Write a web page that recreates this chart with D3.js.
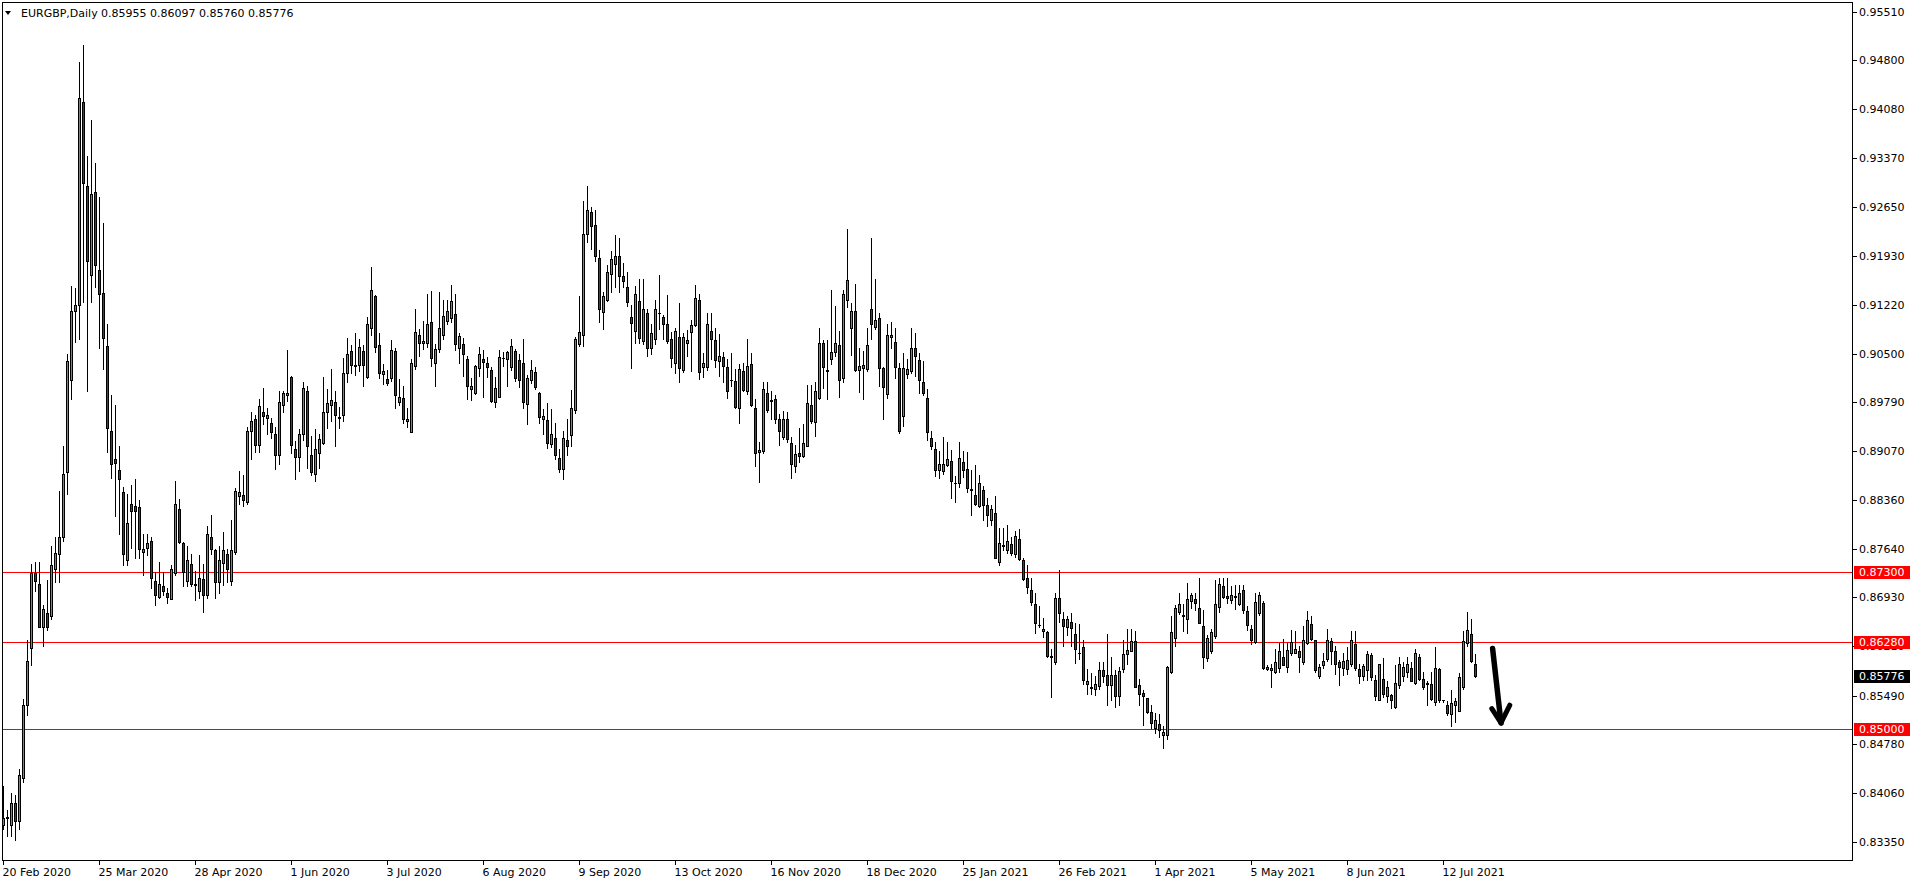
<!DOCTYPE html>
<html><head><meta charset="utf-8">
<script src="https://cdn.jsdelivr.net/npm/d3@7/dist/d3.min.js"></script>
<style>
html,body{margin:0;padding:0;background:#fff;overflow:hidden}
svg{display:block}
text{font-family:"DejaVu Sans",sans-serif;font-size:11px;fill:#000}
</style></head><body>
<svg id="c" width="1916" height="884"></svg>
<script>
// ---- data (EURGBP daily) ----
const title = "EURGBP,Daily";
const ohlcText = "0.85955 0.86097 0.85760 0.85776";
const open = [.8360,.8370,.8360,.8391,.8366,.8429,.8536,.8619,.8728,.8713,.8649,.8670,.8665,.8734,.8757,.8781,.8876,.9012,.9112,.9121,.9418,.9295,.9165,.9287,.9173,.9139,.9061,.8936,.8896,.8880,
.8847,.8747,.8830,.8827,.8826,.8760,.8766,.8776,.8717,.8693,.8709,.8699,.8690,.8728,.8822,.8772,.8717,.8742,.8713,.8703,.8720,.8697,.8782,.8763,.8715,.8743,.8757,.8717,.8760,.8842,
.8843,.8832,.8937,.8954,.8916,.8964,.8956,.8949,.8933,.8902,.8975,.8989,.9016,.8910,.8899,.8932,.8995,.8901,.8873,.8904,.8919,.8964,.8975,.8979,.8956,.8960,.9021,.9054,.9032,.9033,
.9054,.9016,.9088,.9134,.9063,.9020,.9013,.9015,.9054,.8979,.8985,.8951,.8935,.9032,.9077,.9065,.9065,.9096,.9037,.9057,.9078,.9098,.9102,.9108,.9058,.9064,.9042,.8998,.8992,.9029,
.9042,.9037,.9026,.8979,.8987,.9043,.9042,.9031,.9054,.9041,.9037,.8976,.9012,.9023,.8993,.8955,.8953,.8917,.8926,.8897,.8881,.8923,.8931,.8968,.9064,.9078,.9225,.9257,.9238,.9190,
.9111,.9129,.9167,.9182,.9193,.9164,.9148,.9103,.9083,.9127,.9068,.9109,.9059,.9071,.9109,.9103,.9094,.9071,.9037,.9074,.9026,.9065,.9082,.9092,.9128,.9031,.9030,.9083,.9070,.9039,
.9045,.9031,.9011,.9010,.8970,.9025,.8996,.9035,.8971,.8906,.8908,.8993,.8982,.8983,.8955,.8928,.8954,.8919,.8886,.8905,.8900,.8915,.8975,.8950,.8985,.9065,.9025,.9042,.9052,.9062,
.9014,.9129,.9087,.9113,.9026,.9029,.9027,.9115,.9089,.9102,.9029,.8991,.9074,.9067,.9029,.8959,.9020,.9025,.9059,.9040,.9009,.8985,.8927,.8911,.8880,.8878,.8887,.8893,.8860,.8861,
.8892,.8881,.8850,.8843,.8827,.8850,.8828,.8807,.8816,.8745,.8768,.8762,.8771,.8757,.8778,.8748,.8721,.8704,.8683,.8652,.8643,.8642,.8606,.8599,.8692,.8662,.8650,.8657,.8640,.8611,
.8620,.8566,.8560,.8558,.8563,.8587,.8579,.8564,.8579,.8549,.8588,.8610,.8615,.8629,.8565,.8553,.8545,.8525,.8502,.8508,.8491,.8492,.8583,.8634,.8672,.8666,.8661,.8687,.8690,.8678,
.8651,.8604,.8614,.8636,.8679,.8710,.8695,.8689,.8695,.8683,.8704,.8673,.8646,.8627,.8670,.8684,.8588,.8586,.8584,.8590,.8605,.8591,.8611,.8612,.8614,.8599,.8626,.8654,.8631,.8578,
.8594,.8602,.8629,.8614,.8598,.8589,.8588,.8596,.8625,.8588,.8578,.8586,.8608,.8572,.8542,.8574,.8549,.8550,.8532,.8565,.8578,.8584,.8590,.8567,.8605,.8574,.8567,.8566,.8540,.8588,
.8542,.8536,.8522,.8536,.8527,.8562,.8626,.8640,.85955];
const high = [.8416,.8381,.8406,.8404,.8441,.8544,.8630,.8742,.8745,.8745,.8682,.8719,.8768,.8781,.8849,.8914,.9050,.9149,.9146,.9478,.9502,.9339,.9392,.9330,.9280,.9241,.9094,.8990,.8975,.8914,
.8854,.8845,.8858,.8866,.8835,.8786,.8786,.8781,.8730,.8745,.8730,.8707,.8741,.8864,.8837,.8774,.8768,.8757,.8732,.8755,.8742,.8797,.8814,.8764,.8768,.8789,.8764,.8807,.8853,.8878,
.8872,.8942,.8964,.8960,.8983,.9000,.8971,.8956,.8942,.8996,.8996,.9056,.9018,.8922,.8939,.9008,.9002,.8929,.8939,.8932,.9016,.8998,.9027,.8996,.8972,.9043,.9073,.9063,.9080,.9071,
.9063,.9103,.9177,.9136,.9081,.9035,.9026,.9070,.9059,.9013,.9003,.8971,.9042,.9115,.9086,.9098,.9137,.9142,.9064,.9141,.9128,.9129,.9151,.9137,.9081,.9073,.9047,.9015,.9033,.9060,
.9056,.9045,.9031,.9016,.9055,.9053,.9054,.9072,.9057,.9050,.9072,.9019,.9040,.9030,.8994,.8969,.8977,.8969,.8948,.8911,.8937,.8954,.8997,.9075,.9134,.9274,.9296,.9265,.9261,.9202,
.9141,.9180,.9200,.9224,.9220,.9183,.9170,.9121,.9149,.9160,.9160,.9115,.9093,.9129,.9165,.9107,.9136,.9082,.9087,.9124,.9081,.9085,.9100,.9151,.9138,.9051,.9110,.9109,.9087,.9079,
.9052,.9042,.9051,.9027,.9035,.9037,.9071,.9051,.8983,.8920,.9008,.9008,.8996,.8989,.8961,.8966,.8964,.8928,.8916,.8941,.8947,.9004,.9004,.9009,.9087,.9070,.9070,.9144,.9120,.9083,
.9144,.9232,.9124,.9152,.9058,.9054,.9087,.9220,.9160,.9109,.9030,.9094,.9096,.9088,.9036,.9051,.9042,.9087,.9080,.9051,.9039,.8998,.8937,.8920,.8908,.8928,.8920,.8909,.8871,.8920,
.8908,.8906,.8880,.8887,.8872,.8856,.8838,.8829,.8842,.8794,.8794,.8799,.8781,.8790,.8793,.8750,.8740,.8721,.8699,.8680,.8663,.8644,.8617,.8699,.8733,.8672,.8665,.8670,.8655,.8654,
.8630,.8588,.8582,.8578,.8599,.8599,.8640,.8606,.8587,.8591,.8630,.8646,.8646,.8643,.8573,.8557,.8545,.8535,.8523,.8522,.8504,.8592,.8666,.8682,.8699,.8683,.8714,.8700,.8699,.8721,
.8675,.8638,.8647,.8718,.8721,.8721,.8721,.8709,.8711,.8711,.8711,.8680,.8653,.8700,.8701,.8687,.8594,.8596,.8617,.8626,.8632,.8626,.8645,.8644,.8621,.8651,.8673,.8666,.8631,.8596,
.8611,.8646,.8634,.8621,.8601,.8611,.8620,.8643,.8643,.8596,.8596,.8614,.8612,.8579,.8596,.8604,.8570,.8552,.8594,.8606,.8599,.8605,.8598,.8617,.8610,.8584,.8570,.8584,.8620,.8589,
.8543,.8541,.8557,.8545,.8582,.8644,.8672,.8661,.86097];
const low = [.8354,.8343,.8343,.8337,.8354,.8422,.8521,.8594,.8703,.8649,.8621,.8645,.8661,.8715,.8715,.8776,.8845,.8983,.9067,.9071,.9125,.8996,.9125,.9148,.9058,.9027,.8906,.8868,.8812,.8786,
.8740,.8740,.8766,.8751,.8751,.8725,.8755,.8707,.8682,.8692,.8696,.8684,.8690,.8725,.8772,.8709,.8709,.8709,.8689,.8692,.8672,.8692,.8757,.8692,.8699,.8711,.8715,.8711,.8757,.8830,
.8827,.8830,.8895,.8906,.8906,.8947,.8932,.8927,.8881,.8889,.8965,.8981,.8904,.8866,.8878,.8924,.8883,.8872,.8864,.8883,.8918,.8941,.8952,.8914,.8941,.8952,.9008,.9021,.9019,.9025,
.9002,.9014,.9077,.9052,.9015,.9006,.9004,.9010,.8970,.8975,.8948,.8942,.8935,.9027,.9046,.9057,.9060,.9032,.9003,.9053,.9072,.9093,.9097,.9055,.9037,.9018,.8983,.8982,.8991,.9017,
.8987,.9016,.8979,.8972,.8986,.9032,.9003,.9026,.9010,.9001,.8971,.8947,.9007,.8998,.8949,.8932,.8912,.8913,.8895,.8877,.8867,.8902,.8915,.8963,.9061,.9061,.9213,.9203,.9186,.9097,
.9086,.9127,.9141,.9148,.9140,.9147,.9120,.9029,.9065,.9066,.9064,.9046,.9049,.9064,.9086,.9072,.9065,.9031,.9021,.9009,.9023,.9046,.9025,.9091,.9013,.9016,.9026,.9042,.9031,.9018,
.9009,.8985,.9003,.8971,.8948,.8995,.8991,.8973,.8885,.8862,.8904,.8964,.8955,.8949,.8916,.8925,.8920,.8868,.8876,.8891,.8899,.8915,.8948,.8930,.8984,.9000,.8984,.9035,.9046,.8986,
.9009,.9118,.9048,.9024,.8994,.8984,.9025,.9072,.9086,.9003,.8954,.8985,.9058,.9014,.8934,.8944,.9014,.9021,.9018,.8993,.8990,.8923,.8911,.8871,.8868,.8874,.8885,.8839,.8832,.8855,
.8870,.8848,.8814,.8828,.8826,.8806,.8797,.8799,.8750,.8740,.8762,.8758,.8755,.8752,.8747,.8719,.8699,.8682,.8641,.8650,.8635,.8606,.8547,.8596,.8657,.8621,.8638,.8622,.8597,.8602,
.8566,.8551,.8551,.8550,.8558,.8569,.8535,.8543,.8533,.8535,.8583,.8596,.8614,.8562,.8535,.8506,.8523,.8501,.8494,.8489,.8472,.8485,.8582,.8622,.8668,.8643,.8641,.8677,.8675,.8655,
.8590,.8600,.8612,.8634,.8672,.8692,.8685,.8684,.8676,.8682,.8670,.8645,.8624,.8626,.8667,.8588,.8586,.8561,.8582,.8584,.8594,.8583,.8609,.8611,.8584,.8596,.8624,.8631,.8584,.8575,
.8589,.8600,.8596,.8581,.8565,.8579,.8581,.8593,.8586,.8568,.8572,.8572,.8572,.8542,.8542,.8547,.8540,.8531,.8531,.8560,.8571,.8577,.8570,.8566,.8572,.8558,.8535,.8543,.8535,.8540,
.8540,.8521,.8504,.8511,.8526,.8558,.8621,.8599,.85760];
const close = [.8370,.8371,.8391,.8366,.8433,.8536,.8600,.8728,.8717,.8649,.8676,.8649,.8740,.8758,.8782,.8873,.9039,.9113,.9122,.9424,.9300,.9186,.9284,.9180,.9138,.9073,.8941,.8889,.8890,.8866,
.8757,.8802,.8820,.8820,.8764,.8764,.8772,.8722,.8697,.8713,.8702,.8694,.8735,.8830,.8774,.8730,.8748,.8712,.8711,.8721,.8697,.8786,.8764,.8715,.8748,.8762,.8735,.8763,.8849,.8847,
.8835,.8937,.8952,.8916,.8973,.8958,.8960,.8935,.8901,.8979,.8992,.8992,.8916,.8899,.8933,.8999,.8914,.8876,.8910,.8925,.8965,.8977,.8982,.8960,.8957,.9021,.9050,.9033,.9034,.9060,
.9033,.9094,.9144,.9060,.9021,.9024,.9007,.9055,.8990,.8986,.8954,.8954,.9037,.9082,.9066,.9069,.9094,.9043,.9057,.9087,.9105,.9113,.9127,.9064,.9076,.9049,.9003,.9003,.9032,.9050,
.9038,.9031,.8980,.8999,.9045,.9043,.9052,.9061,.9015,.9012,.8979,.9014,.9026,.9001,.8957,.8959,.8919,.8932,.8902,.8881,.8926,.8915,.8971,.9072,.9082,.9225,.9260,.9237,.9193,.9115,
.9134,.9169,.9188,.9193,.9164,.9157,.9126,.9095,.9137,.9073,.9116,.9058,.9080,.9115,.9110,.9094,.9069,.9043,.9083,.9029,.9074,.9070,.9092,.9132,.9023,.9036,.9093,.9072,.9041,.9047,
.9032,.8995,.9012,.8972,.9028,.8997,.9032,.8975,.8905,.8909,.8998,.8967,.8981,.8954,.8936,.8954,.8925,.8889,.8903,.8900,.8919,.8977,.8952,.8995,.9065,.9031,.9026,.9052,.9065,.9012,
.9137,.9158,.9113,.9026,.9032,.9033,.9062,.9094,.9100,.9029,.9001,.9077,.9077,.9030,.8936,.9029,.9027,.9059,.9046,.9012,.8993,.8935,.8915,.8880,.8888,.8889,.8895,.8863,.8861,.8897,
.8879,.8853,.8851,.8830,.8860,.8828,.8814,.8822,.8750,.8772,.8769,.8775,.8758,.8783,.8749,.8720,.8708,.8686,.8655,.8653,.8647,.8607,.8607,.8692,.8670,.8651,.8661,.8648,.8618,.8612,
.8572,.8570,.8561,.8566,.8586,.8578,.8564,.8579,.8549,.8585,.8610,.8616,.8629,.8562,.8551,.8549,.8525,.8509,.8514,.8499,.8496,.8591,.8642,.8677,.8683,.8667,.8690,.8696,.8684,.8656,
.8606,.8634,.8642,.8683,.8712,.8694,.8692,.8697,.8693,.8699,.8674,.8653,.8631,.8686,.8696,.8589,.8591,.8589,.8598,.8614,.8594,.8616,.8627,.8618,.8606,.8631,.8660,.8632,.8586,.8591,
.8600,.8631,.8615,.8596,.8591,.8600,.8601,.8631,.8589,.8578,.8592,.8610,.8577,.8549,.8595,.8551,.8562,.8542,.8568,.8596,.8591,.8595,.8571,.8611,.8574,.8562,.8566,.8544,.8590,.8542,
.8542,.8524,.8538,.8541,.8576,.8629,.8645,.8600,.85776];

const yTickLabels = ["0.95510","0.94800","0.94080","0.93370","0.92650","0.91930","0.91220","0.90500","0.89790","0.89070","0.88360","0.87640","0.86930","0.86210","0.85490","0.84780","0.84060","0.83350"];
const xTickLabels = ["20 Feb 2020","25 Mar 2020","28 Apr 2020","1 Jun 2020","3 Jul 2020","6 Aug 2020","9 Sep 2020","13 Oct 2020","16 Nov 2020","18 Dec 2020","25 Jan 2021","26 Feb 2021","1 Apr 2021","5 May 2021","8 Jun 2021","12 Jul 2021"];
const xTickBars = [0,24,48,72,96,120,144,168,192,216,240,264,288,312,336,360];
const levels = [0.87300, 0.86280, 0.85000];
const lastPrice = 0.85776;
// hand-drawn arrow: [bar index, price]
const arrowShaft = [[372.4,0.8618],[374.5,0.8509]];
const arrowHead = [[372.2,0.8530],[374.5,0.8509],[376.7,0.8535]];

// ---- layout ----
const L = 2, R = 1852, T = 2, B = 860;
const svg = d3.select("#c");
const x = d3.scaleLinear().domain([0, 368]).range([3, 1475]);
const y = d3.scaleLinear().domain([0.8335, 0.9551]).range([841.7, 11.7]);

svg.append("defs").append("clipPath").attr("id","clip")
  .append("rect").attr("x",L+1).attr("y",T+1).attr("width",R-L-1).attr("height",B-T-1);

const data = open.map((o,i)=>({i,o,h:high[i],l:low[i],c:close[i]}));

// horizontal levels
const plot = svg.append("g").attr("clip-path","url(#clip)");
plot.selectAll("line.lvl").data(levels).join("line").attr("class","lvl")
  .attr("x1",L).attr("x2",R)
  .attr("y1",d=>Math.round(y(d))+0.5).attr("y2",d=>Math.round(y(d))+0.5)
  .attr("stroke","#ff0000").attr("stroke-width",1);

// candles
const cg = plot.selectAll("g.candle").data(data).join("g").attr("class","candle");
cg.append("line")
  .attr("x1",d=>Math.round(x(d.i))+0.5).attr("x2",d=>Math.round(x(d.i))+0.5)
  .attr("y1",d=>Math.round(y(d.h))).attr("y2",d=>Math.round(y(d.l))+1)
  .attr("stroke","#000").attr("stroke-width",1);
cg.each(function(d){
  const g = d3.select(this);
  const cx = Math.round(x(d.i));
  const a = Math.round(y(Math.max(d.o,d.c))), b = Math.round(y(Math.min(d.o,d.c)));
  if (b - a < 1) {
    g.append("line").attr("x1",cx-1).attr("x2",cx+2).attr("y1",a+0.5).attr("y2",a+0.5)
      .attr("stroke","#000").attr("stroke-width",1);
  } else {
    g.append("rect").attr("x",cx-0.5).attr("y",a+0.5).attr("width",2).attr("height",b-a)
      .attr("fill", d.c >= d.o ? "#3cb043" : "#e00000")
      .attr("stroke","#000").attr("stroke-width",1);
  }
});

// arrow
const aline = d3.line().x(p=>x(p[0])).y(p=>y(p[1]));
plot.append("path").attr("d",aline(arrowShaft)).attr("fill","none")
  .attr("stroke","#000").attr("stroke-width",5.5).attr("stroke-linecap","round");
plot.append("path").attr("d",aline(arrowHead)).attr("fill","none")
  .attr("stroke","#000").attr("stroke-width",5).attr("stroke-linecap","round").attr("stroke-linejoin","round");

// frame
svg.append("rect").attr("x",L+0.5).attr("y",T+0.5).attr("width",R-L).attr("height",B-T)
  .attr("fill","none").attr("stroke","#000").attr("stroke-width",1);

// right axis
const ya = svg.append("g");
yTickLabels.forEach(t=>{
  const v = +t, py = Math.round(y(v))+0.5;
  ya.append("line").attr("x1",R+1).attr("x2",R+5).attr("y1",py).attr("y2",py).attr("stroke","#000");
  ya.append("text").attr("x",R+7).attr("y",py).attr("dy","0.36em").text(t);
});

// bottom axis
const xa = svg.append("g");
xTickBars.forEach((b,k)=>{
  const px = Math.round(x(b))+0.5;
  xa.append("line").attr("x1",px).attr("x2",px).attr("y1",B+1).attr("y2",B+5).attr("stroke","#000");
  xa.append("text").attr("x",px-1).attr("y",B+16).text(xTickLabels[k]);
});

// price tags
function tag(v, bg){
  const py = Math.round(y(v));
  svg.append("rect").attr("x",R+2).attr("y",py-6).attr("width",56).attr("height",13).attr("fill",bg);
  svg.append("text").attr("x",R+7).attr("y",py+0.5).attr("dy","0.36em").style("fill","#fff").text(d3.format(".5f")(v));
}
levels.forEach(v=>tag(v,"#ff0000"));
tag(lastPrice,"#000");

// title
svg.append("path").attr("d","M5,11 L11,11 L8,15 Z").attr("fill","#000");
svg.append("text").attr("x",21).attr("y",13).attr("dy","0.36em").text(title);
svg.append("text").attr("x",101).attr("y",13).attr("dy","0.36em").text(ohlcText);
</script>
</body></html>
